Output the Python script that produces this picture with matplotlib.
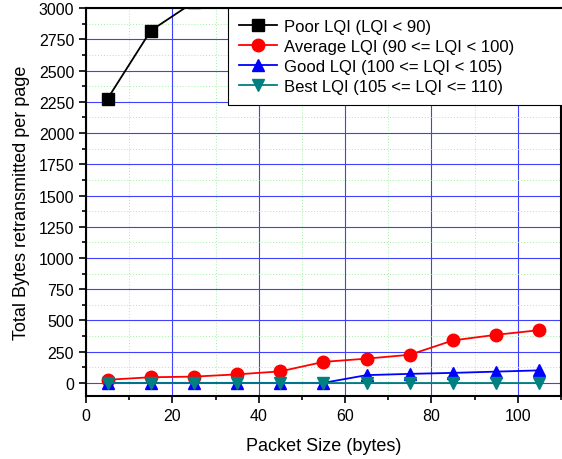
import matplotlib
matplotlib.use("Agg")
import matplotlib.pyplot as plt
from matplotlib.ticker import MultipleLocator

plt.rcParams['font.family'] = ['Liberation Sans', 'DejaVu Sans']

packet_size = [5, 15, 25, 35, 45, 55, 65, 75, 85, 95, 105]
poor = [2275, 2820, 3050, 3400, 3750, 4100, 4450, 4800, 5150, 5500, 5850]
average = [25, 45, 50, 68, 92, 168, 194, 225, 340, 385, 422]
good = [0, 0, 0, 0, 0, 0, 62, 72, 80, 90, 100]
best = [0, 0, 0, 0, 0, 0, 0, 0, 0, 0, 0]

labels = ["Poor LQI (LQI < 90)", "Average LQI (90 <= LQI < 100)",
          "Good LQI (100 <= LQI < 105)", "Best LQI (105 <= LQI <= 110)"]

fig = plt.figure(figsize=(5.62, 4.6), dpi=100)
ax = fig.add_axes([0.153, 0.137, 0.845, 0.843])

ax.plot(packet_size, poor, color='black', marker='s', markersize=8, lw=1.3, label=labels[0], zorder=5)
ax.plot(packet_size, average, color='red', marker='o', markersize=9, lw=1.3, label=labels[1], zorder=4)
ax.plot(packet_size, good, color='blue', marker='^', markersize=9, lw=1.3, label=labels[2], zorder=4)
ax.plot(packet_size, best, color='#008080', marker='v', markersize=9, lw=1.3, label=labels[3], zorder=6)

ax.set_xlim(0, 110)
ax.set_ylim(-105, 3000)
ax.xaxis.set_major_locator(MultipleLocator(20))
ax.xaxis.set_minor_locator(MultipleLocator(10))
ax.yaxis.set_major_locator(MultipleLocator(250))
ax.yaxis.set_minor_locator(MultipleLocator(125))

ax.grid(which='major', color='#4040ff', lw=0.8)
ax.grid(which='minor', color='#a0f0a0', lw=0.7, ls=(0, (1, 2)))
ax.set_axisbelow(True)

ax.tick_params(which='both', direction='out', width=1.2, labelsize=11.5)
ax.tick_params(which='major', length=5)
ax.tick_params(which='minor', length=3)
for s in ax.spines.values():
    s.set_linewidth(1.5)

ax.set_xlabel("Packet Size (bytes)", fontsize=13, labelpad=10)
ax.set_ylabel("Total Bytes retransmitted per page", fontsize=13, labelpad=6)

leg = ax.legend(loc='upper left', bbox_to_anchor=(0.299, 0.5, 0.75, 0.5), mode='expand',
                borderaxespad=0, fontsize=12, handlelength=2.3,
                handletextpad=0.4, fancybox=False, framealpha=1, edgecolor='black',
                labelspacing=0.3, borderpad=0.65)
leg.get_frame().set_linewidth(0.8)
leg.set_clip_on(False)

fig.savefig("out.png", dpi=100)
